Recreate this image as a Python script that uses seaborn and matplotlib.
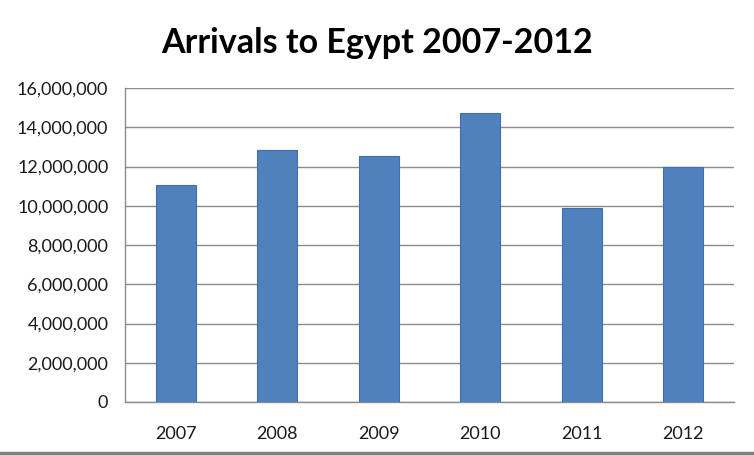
import matplotlib
matplotlib.use("Agg")
import matplotlib.pyplot as plt
from matplotlib.ticker import FuncFormatter, FixedLocator
import seaborn as sns
import pandas as pd

# values
years = ["2007", "2008", "2009", "2010", "2011", "2012"]
arrivals = [11070000, 12840000, 12530000, 14730000, 9870000, 12000000]
y_ticks = list(range(0, 16000001, 2000000))

df = pd.DataFrame({"year": years, "arrivals": arrivals})

sns.set_style("white")
plt.rcParams["font.family"] = ["Lato", "DejaVu Sans"]

fig = plt.figure(figsize=(7.54, 4.55), dpi=100)
ax = fig.add_axes([0.1658, 0.1165, 0.8077, 0.690])

sns.barplot(data=df, x="year", y="arrivals", color="#4F81BD", width=0.39,
            saturation=1, edgecolor="#3D6FAF", linewidth=0.8, ax=ax, zorder=3)

ax.set_ylim(0, 16000000)
ax.set_xlim(-0.5, len(years) - 0.5)
ax.yaxis.set_major_locator(FixedLocator(y_ticks))
ax.yaxis.set_major_formatter(FuncFormatter(lambda v, p: f"{int(v):,}"))
ax.grid(axis="y", color="#8C8C8C", linewidth=1.0, zorder=0)
ax.set_axisbelow(True)

for side in ["top", "right"]:
    ax.spines[side].set_visible(False)
for side in ["left", "bottom"]:
    ax.spines[side].set_color("#8C8C8C")
    ax.spines[side].set_linewidth(1.0)

ax.set_xlabel("")
ax.set_ylabel("")
ax.tick_params(axis="y", length=6, width=1, color="#8C8C8C", labelsize=13,
               labelcolor="#1a1a1a", pad=6)
ax.tick_params(axis="x", which="major", length=0, labelsize=13,
               labelcolor="#1a1a1a", pad=17)
ax.set_xticks([i - 0.5 for i in range(len(years) + 1)], minor=True)
ax.tick_params(axis="x", which="minor", length=6, width=1, color="#8C8C8C")

fig.text(0.5, 0.905, "Arrivals to Egypt 2007-2012", ha="center", va="center",
         fontsize=24.5, fontweight="bold", color="#000000")

# grey rule along the bottom edge
fig.add_artist(plt.Line2D([0, 1], [0.005, 0.005], color="#7F7F7F", linewidth=2.5,
                          transform=fig.transFigure))

fig.savefig("out.png", dpi=100)
